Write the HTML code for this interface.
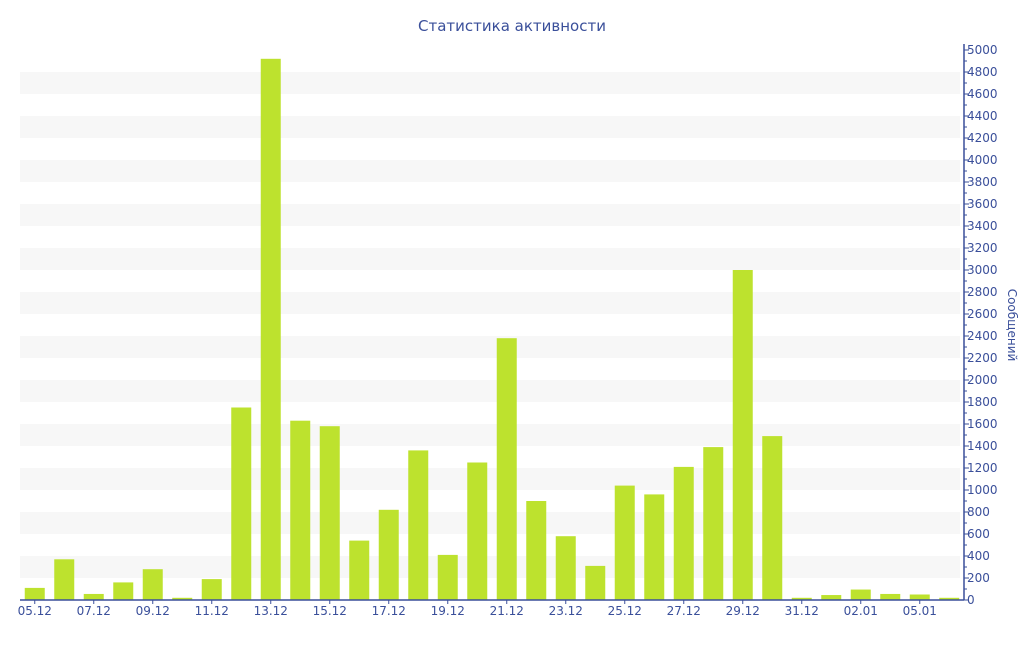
<!DOCTYPE html>
<html><head><meta charset="utf-8"><style>
body{margin:0;background:#fff;}
svg text{font-family:"DejaVu Sans","Liberation Sans",sans-serif;fill:#3a4f9a;}
</style></head><body>
<svg id="c" width="1024" height="640">
<text x="512" y="31" text-anchor="middle" font-size="15">Статистика активности</text>
<g id="bands"></g><g id="bars"></g><g id="axes"></g>
<text transform="translate(1008,325) rotate(90)" text-anchor="middle" font-size="12">Сообщений</text>
</svg>
<script>
const categories=["05.12","06.12","07.12","08.12","09.12","10.12","11.12","12.12","13.12","14.12","15.12","16.12","17.12","18.12","19.12","20.12","21.12","22.12","23.12","24.12","25.12","26.12","27.12","28.12","29.12","30.12","31.12","01.01","02.01","04.01","05.01","06.01"];
const values=[110,370,55,160,280,20,190,1750,4920,1630,1580,540,820,1360,410,1250,2380,900,580,310,1040,960,1210,1390,3000,1490,20,45,95,55,50,20];
const yTicks=[0,200,400,600,800,1000,1200,1400,1600,1800,2000,2200,2400,2600,2800,3000,3200,3400,3600,3800,4000,4200,4400,4600,4800,5000];
const labelIdx=[0,2,4,6,8,10,12,14,16,18,20,22,24,26,28,30];
const NS="http://www.w3.org/2000/svg";
const x0=20,x1=964,yb=600,yt=50,ymax=5000;
const bw=(x1-x0)/categories.length;
const y=v=>yb-(v/ymax)*(yb-yt);
const xc=i=>x0+bw*(i+0.5);
function mk(t,a,p){const e=document.createElementNS(NS,t);for(const k in a)e.setAttribute(k,a[k]);p.appendChild(e);return e;}
const bands=document.getElementById('bands'),bars=document.getElementById('bars'),axes=document.getElementById('axes');
for(let v=200;v<ymax;v+=400){
 const r=mk('rect',{x:x0,y:y(v+200),width:x1-4-x0,height:y(v)-y(v+200),fill:'#f7f7f7'},bands);
 
 
}
values.forEach((v,i)=>{
 const r=mk('rect',{x:xc(i)-10,y:y(v),width:20,height:yb-y(v),fill:'#bde22e'},bars);
 
 
});
let l=mk('line',{x1:x0,y1:yb,x2:x1,y2:yb,stroke:'#3a4f9a','stroke-width':1.5},axes);


l=mk('line',{x1:x1,y1:yt-6,x2:x1,y2:yb,stroke:'#3a4f9a','stroke-width':1.5},axes);


for(let v=100;v<=ymax;v+=200){mk('line',{x1:x1,y1:y(v),x2:x1+3,y2:y(v),stroke:'#3a4f9a'},axes);}
yTicks.forEach(v=>{
 mk('line',{x1:x1,y1:y(v),x2:x1+5,y2:y(v),stroke:'#3a4f9a'},axes);
 const t=mk('text',{x:x1+3,y:y(v)+4,'font-size':12},axes);t.textContent=v;
 
 
});
labelIdx.forEach(i=>{
 mk('line',{x1:xc(i),y1:yb,x2:xc(i),y2:yb+4,stroke:'#3a4f9a'},axes);
 const t=mk('text',{x:xc(i),y:yb+15,'font-size':12,'text-anchor':'middle'},axes);t.textContent=categories[i];
 
 
});
</script>
</body></html>
